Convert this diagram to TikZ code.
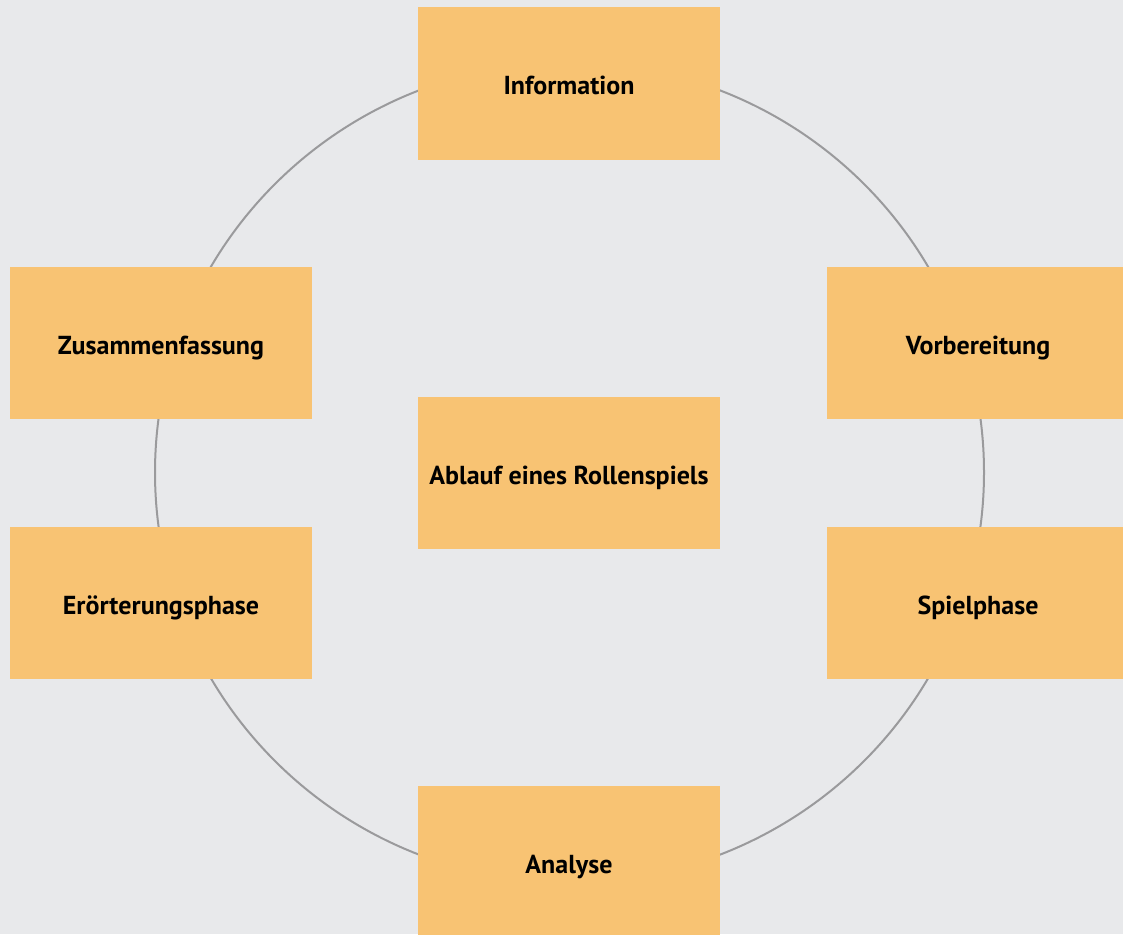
\documentclass[tikz,border=0pt]{standalone}
\usepackage{fontspec}
\setsansfont{PT Sans}
\definecolor{bg}{HTML}{E8E9EB}
\definecolor{boxfill}{HTML}{F8C373}
\definecolor{ring}{HTML}{9A9A9C}
\begin{document}
\begin{tikzpicture}[x=1pt,y=-1pt,
  phase/.style={fill=boxfill, draw=none, minimum width=302pt, minimum height=152pt,
    inner sep=0pt, text height=22pt, text depth=0pt,
    font=\sffamily\bfseries\fontsize{26}{30}\selectfont, anchor=center}]
  % canvas
  \fill[bg] (0,0) rectangle (1123,934);
  \useasboundingbox (0,0) rectangle (1123,934);
  % cycle ring behind the phases
  \draw[ring, line width=2pt] (569.5,472.5) ellipse [x radius=414.5, y radius=410];
  % phases of the role play
  \node[phase] (info)  at (569,83.5)  {Information};
  \node[phase] (vorb)  at (978,343)   {Vorbereitung};
  \node[phase] (spiel) at (978,603)   {Spielphase};
  \node[phase] (anal)  at (569,862)   {Analyse};
  \node[phase] (eroe)  at (161,603)   {Erörterungsphase};
  \node[phase] (zus)   at (161,343)   {Zusammenfassung};
  % centre
  \node[phase] (mitte) at (569,473)   {Ablauf eines Rollenspiels};
\end{tikzpicture}
\end{document}
